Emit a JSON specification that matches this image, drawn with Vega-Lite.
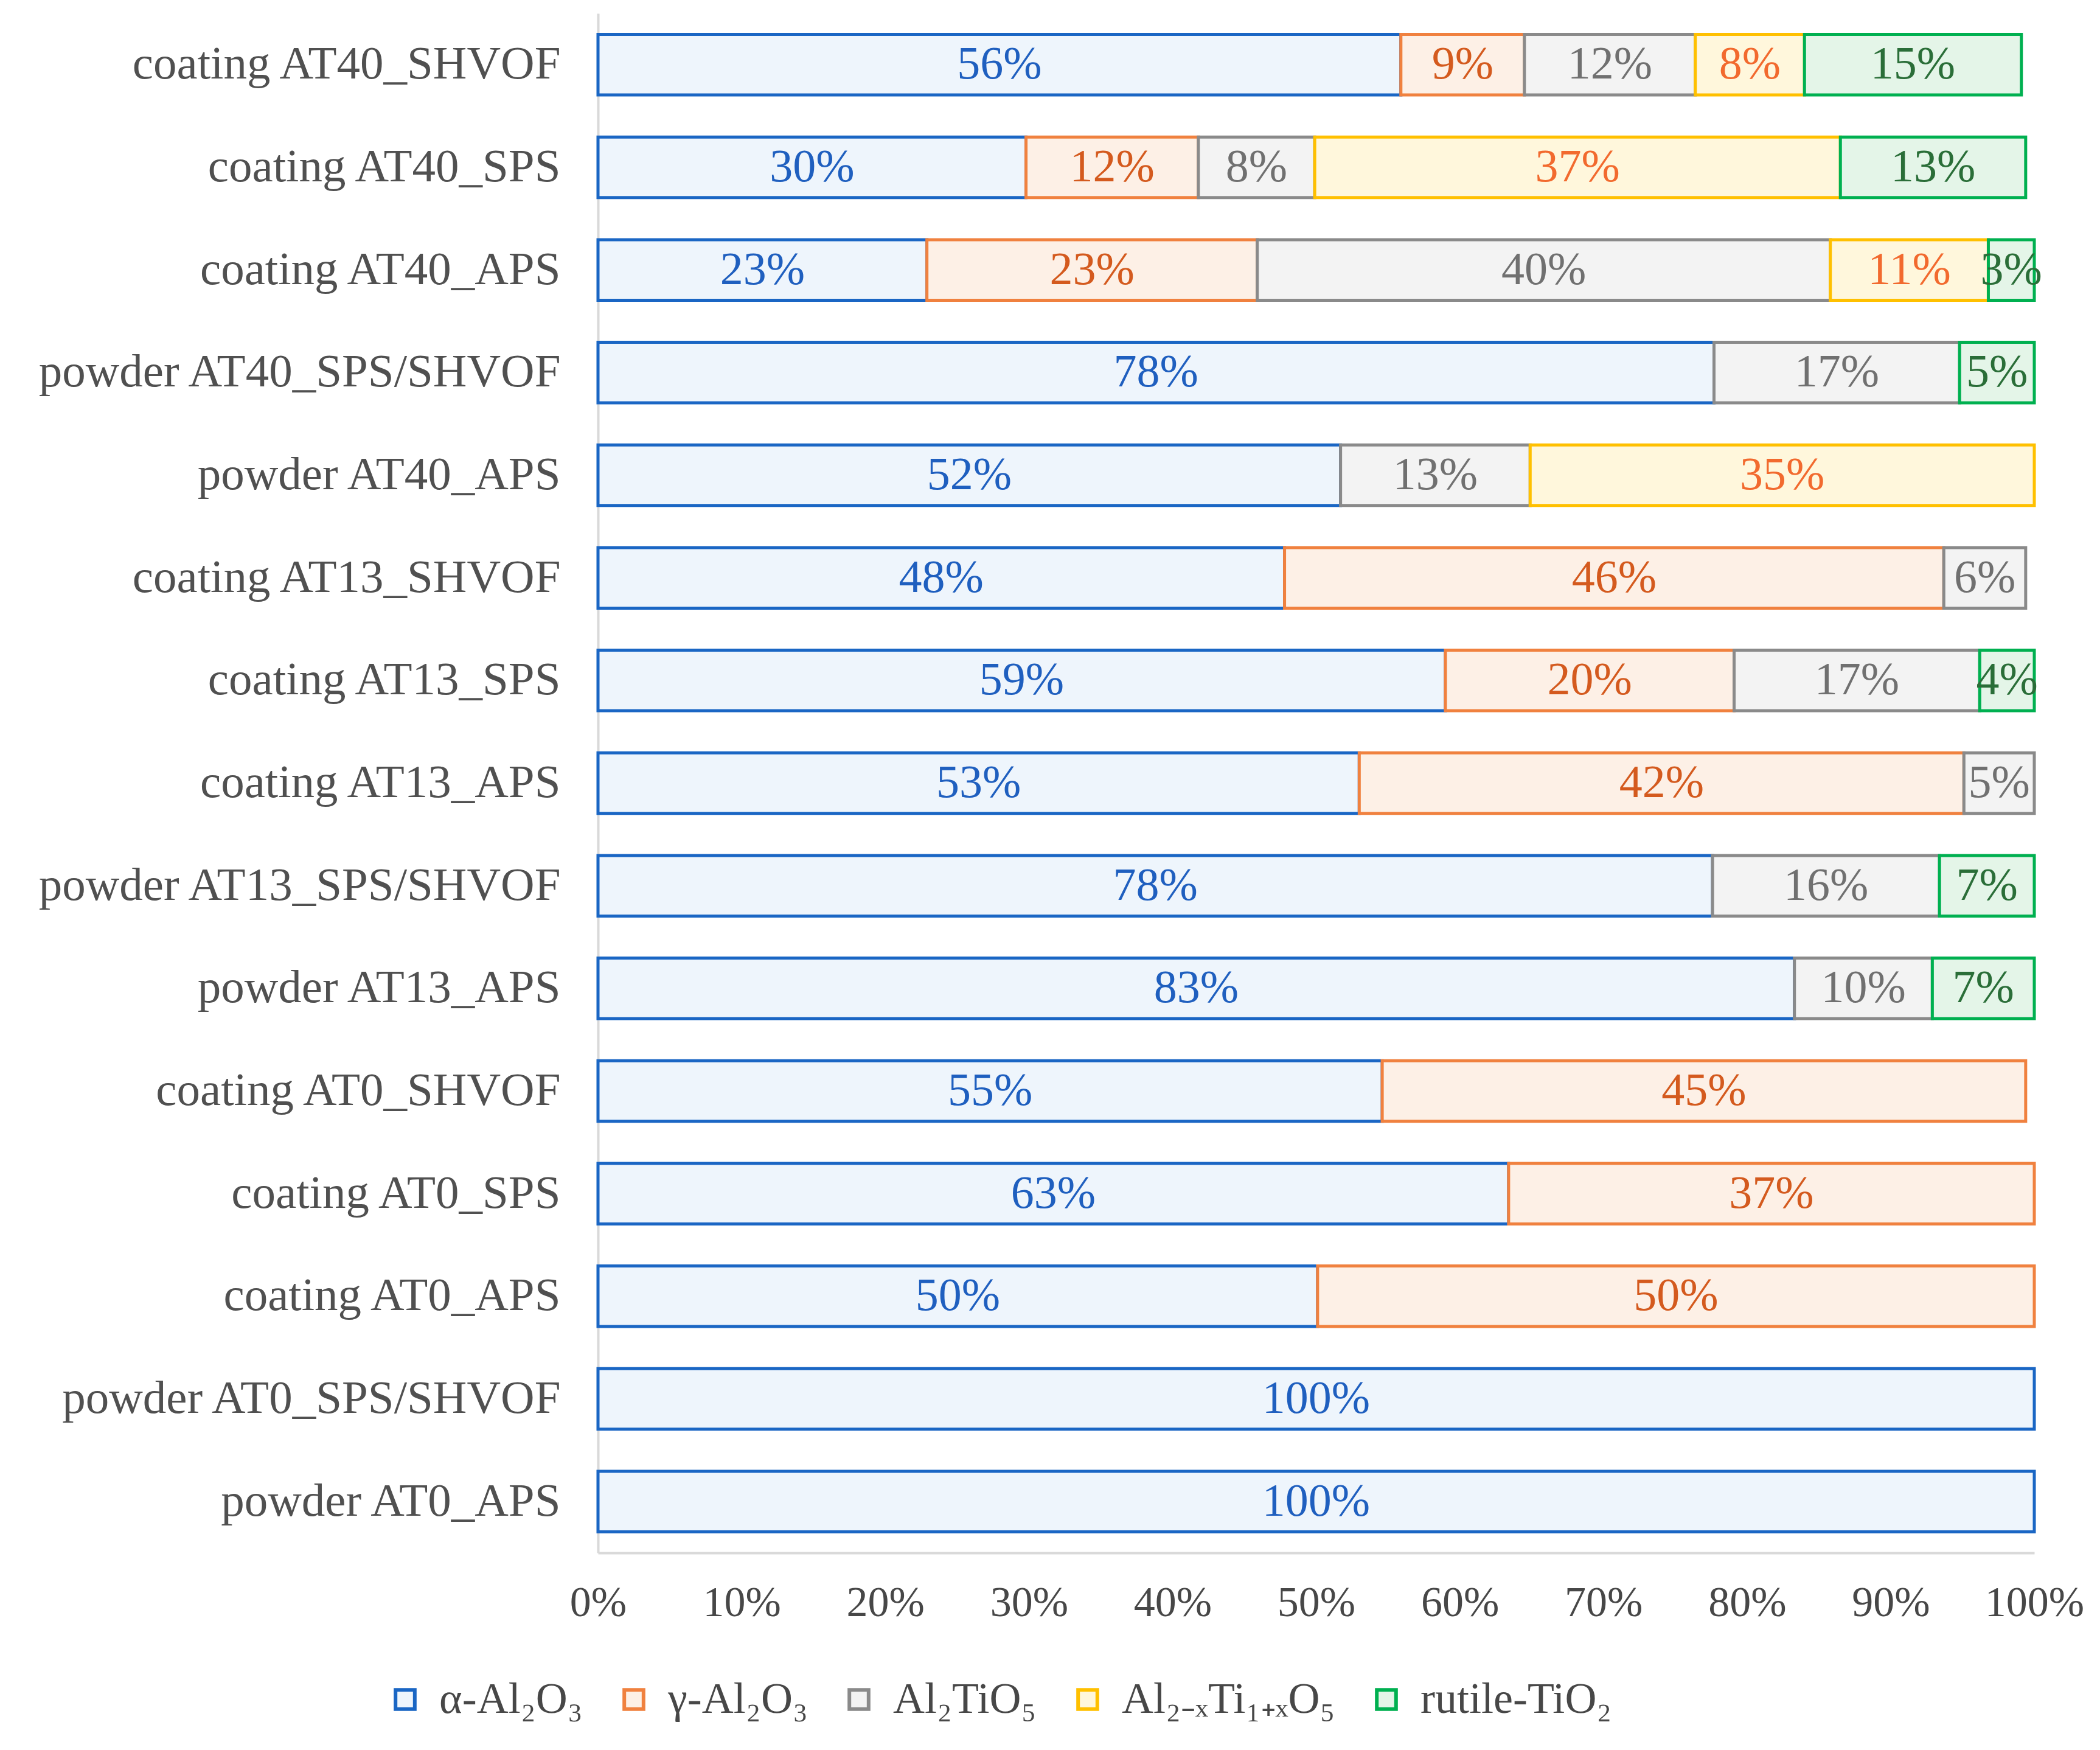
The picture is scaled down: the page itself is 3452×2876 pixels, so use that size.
{
  "$schema": "https://vega.github.io/schema/vega-lite/v6.json",
  "autosize": {"type": "none"},
  "padding": {"left": 983, "top": 22, "right": 108, "bottom": 324},
  "width": 2361,
  "height": 2530,
  "background": "white",
  "config": {
    "view": {"stroke": null},
    "font": "Liberation Serif",
    "axis": {"labelFont": "Liberation Serif", "labelFontSize": 70, "labelColor": "#474747", "labelLimit": 0, "ticks": false, "grid": false, "domainColor": "#d9d9d9", "domainWidth": 4, "title": null},
    "legend": {"labelFont": "Liberation Serif", "labelFontSize": 72, "labelColor": "#474747", "labelLimit": 0}
  },
  "data": {
    "values": [
      {"sample": "coating AT40_SHVOF", "phase": "α-Al₂O₃", "k": 1, "value": 0.559},
      {"sample": "coating AT40_SHVOF", "phase": "γ-Al₂O₃", "k": 2, "value": 0.086},
      {"sample": "coating AT40_SHVOF", "phase": "Al₂TiO₅", "k": 3, "value": 0.119},
      {"sample": "coating AT40_SHVOF", "phase": "Al₂₋ₓTi₁₊ₓO₅", "k": 4, "value": 0.076},
      {"sample": "coating AT40_SHVOF", "phase": "rutile-TiO₂", "k": 5, "value": 0.151},
      {"sample": "coating AT40_SPS", "phase": "α-Al₂O₃", "k": 1, "value": 0.298},
      {"sample": "coating AT40_SPS", "phase": "γ-Al₂O₃", "k": 2, "value": 0.120},
      {"sample": "coating AT40_SPS", "phase": "Al₂TiO₅", "k": 3, "value": 0.081},
      {"sample": "coating AT40_SPS", "phase": "Al₂₋ₓTi₁₊ₓO₅", "k": 4, "value": 0.366},
      {"sample": "coating AT40_SPS", "phase": "rutile-TiO₂", "k": 5, "value": 0.129},
      {"sample": "coating AT40_APS", "phase": "α-Al₂O₃", "k": 1, "value": 0.229},
      {"sample": "coating AT40_APS", "phase": "γ-Al₂O₃", "k": 2, "value": 0.230},
      {"sample": "coating AT40_APS", "phase": "Al₂TiO₅", "k": 3, "value": 0.399},
      {"sample": "coating AT40_APS", "phase": "Al₂₋ₓTi₁₊ₓO₅", "k": 4, "value": 0.110},
      {"sample": "coating AT40_APS", "phase": "rutile-TiO₂", "k": 5, "value": 0.032},
      {"sample": "powder AT40_SPS/SHVOF", "phase": "α-Al₂O₃", "k": 1, "value": 0.777},
      {"sample": "powder AT40_SPS/SHVOF", "phase": "Al₂TiO₅", "k": 3, "value": 0.171},
      {"sample": "powder AT40_SPS/SHVOF", "phase": "rutile-TiO₂", "k": 5, "value": 0.052},
      {"sample": "powder AT40_APS", "phase": "α-Al₂O₃", "k": 1, "value": 0.517},
      {"sample": "powder AT40_APS", "phase": "Al₂TiO₅", "k": 3, "value": 0.132},
      {"sample": "powder AT40_APS", "phase": "Al₂₋ₓTi₁₊ₓO₅", "k": 4, "value": 0.351},
      {"sample": "coating AT13_SHVOF", "phase": "α-Al₂O₃", "k": 1, "value": 0.478},
      {"sample": "coating AT13_SHVOF", "phase": "γ-Al₂O₃", "k": 2, "value": 0.459},
      {"sample": "coating AT13_SHVOF", "phase": "Al₂TiO₅", "k": 3, "value": 0.057},
      {"sample": "coating AT13_SPS", "phase": "α-Al₂O₃", "k": 1, "value": 0.590},
      {"sample": "coating AT13_SPS", "phase": "γ-Al₂O₃", "k": 2, "value": 0.201},
      {"sample": "coating AT13_SPS", "phase": "Al₂TiO₅", "k": 3, "value": 0.171},
      {"sample": "coating AT13_SPS", "phase": "rutile-TiO₂", "k": 5, "value": 0.038},
      {"sample": "coating AT13_APS", "phase": "α-Al₂O₃", "k": 1, "value": 0.530},
      {"sample": "coating AT13_APS", "phase": "γ-Al₂O₃", "k": 2, "value": 0.421},
      {"sample": "coating AT13_APS", "phase": "Al₂TiO₅", "k": 3, "value": 0.049},
      {"sample": "powder AT13_SPS/SHVOF", "phase": "α-Al₂O₃", "k": 1, "value": 0.776},
      {"sample": "powder AT13_SPS/SHVOF", "phase": "Al₂TiO₅", "k": 3, "value": 0.158},
      {"sample": "powder AT13_SPS/SHVOF", "phase": "rutile-TiO₂", "k": 5, "value": 0.066},
      {"sample": "powder AT13_APS", "phase": "α-Al₂O₃", "k": 1, "value": 0.833},
      {"sample": "powder AT13_APS", "phase": "Al₂TiO₅", "k": 3, "value": 0.096},
      {"sample": "powder AT13_APS", "phase": "rutile-TiO₂", "k": 5, "value": 0.071},
      {"sample": "coating AT0_SHVOF", "phase": "α-Al₂O₃", "k": 1, "value": 0.546},
      {"sample": "coating AT0_SHVOF", "phase": "γ-Al₂O₃", "k": 2, "value": 0.448},
      {"sample": "coating AT0_SPS", "phase": "α-Al₂O₃", "k": 1, "value": 0.634},
      {"sample": "coating AT0_SPS", "phase": "γ-Al₂O₃", "k": 2, "value": 0.366},
      {"sample": "coating AT0_APS", "phase": "α-Al₂O₃", "k": 1, "value": 0.501},
      {"sample": "coating AT0_APS", "phase": "γ-Al₂O₃", "k": 2, "value": 0.499},
      {"sample": "powder AT0_SPS/SHVOF", "phase": "α-Al₂O₃", "k": 1, "value": 1.0},
      {"sample": "powder AT0_APS", "phase": "α-Al₂O₃", "k": 1, "value": 1.0}
    ]
  },
  "transform": [
    {"stack": "value", "groupby": ["sample"], "sort": [{"field": "k", "order": "ascending"}], "as": ["v0", "v1"]},
    {"calculate": "(datum.v0 + datum.v1) / 2", "as": "vmid"}
  ],
  "encoding": {
    "y": {
      "field": "sample", "type": "nominal", "sort": null,
      "scale": {"paddingInner": 0.41, "paddingOuter": 0.205},
      "axis": {"labelPadding": 62, "domainColor": "#d9d9d9", "labelColor": "#505050", "labelFontSize": 77}
    }
  },
  "layer": [
    {
      "mark": {"type": "bar", "strokeWidth": 5},
      "encoding": {
        "x": {
          "field": "v0", "type": "quantitative",
          "scale": {"domain": [0, 1], "nice": false},
          "axis": {"values": [0, 0.1, 0.2, 0.3, 0.4, 0.5, 0.6, 0.7, 0.8, 0.9, 1], "format": ".0%", "labelPadding": 48, "labelFlush": false}
        },
        "x2": {"field": "v1"},
        "fill": {
          "field": "phase", "type": "nominal",
          "scale": {"domain": ["α-Al₂O₃", "γ-Al₂O₃", "Al₂TiO₅", "Al₂₋ₓTi₁₊ₓO₅", "rutile-TiO₂"], "range": ["#eef5fc", "#fdf0e6", "#f3f3f3", "#fff7dc", "#e4f5e8"]},
          "legend": {"orient": "none", "legendX": -353, "legendY": 2735, "direction": "horizontal", "columns": 5, "title": null, "symbolType": "square", "symbolSize": 1000, "symbolStrokeWidth": 6, "columnPadding": 48, "labelOffset": 20}
        },
        "stroke": {
          "field": "phase", "type": "nominal",
          "scale": {"domain": ["α-Al₂O₃", "γ-Al₂O₃", "Al₂TiO₅", "Al₂₋ₓTi₁₊ₓO₅", "rutile-TiO₂"], "range": ["#1a66c4", "#f0813f", "#8a8a8a", "#ffc000", "#00b050"]},
          "legend": {"orient": "none", "legendX": -353, "legendY": 2735, "direction": "horizontal", "columns": 5, "title": null, "symbolType": "square", "symbolSize": 1000, "symbolStrokeWidth": 6, "columnPadding": 48, "labelOffset": 20}
        }
      }
    },
    {
      "mark": {"type": "text", "fontSize": 76, "font": "Liberation Serif", "baseline": "middle", "align": "center"},
      "encoding": {
        "x": {"field": "vmid", "type": "quantitative"},
        "text": {"field": "value", "type": "quantitative", "format": ".0%"},
        "color": {
          "field": "phase", "type": "nominal",
          "scale": {"domain": ["α-Al₂O₃", "γ-Al₂O₃", "Al₂TiO₅", "Al₂₋ₓTi₁₊ₓO₅", "rutile-TiO₂"], "range": ["#1f5fbf", "#d45a1e", "#707070", "#f26a2e", "#2a6e38"]},
          "legend": null
        }
      }
    }
  ]
}
